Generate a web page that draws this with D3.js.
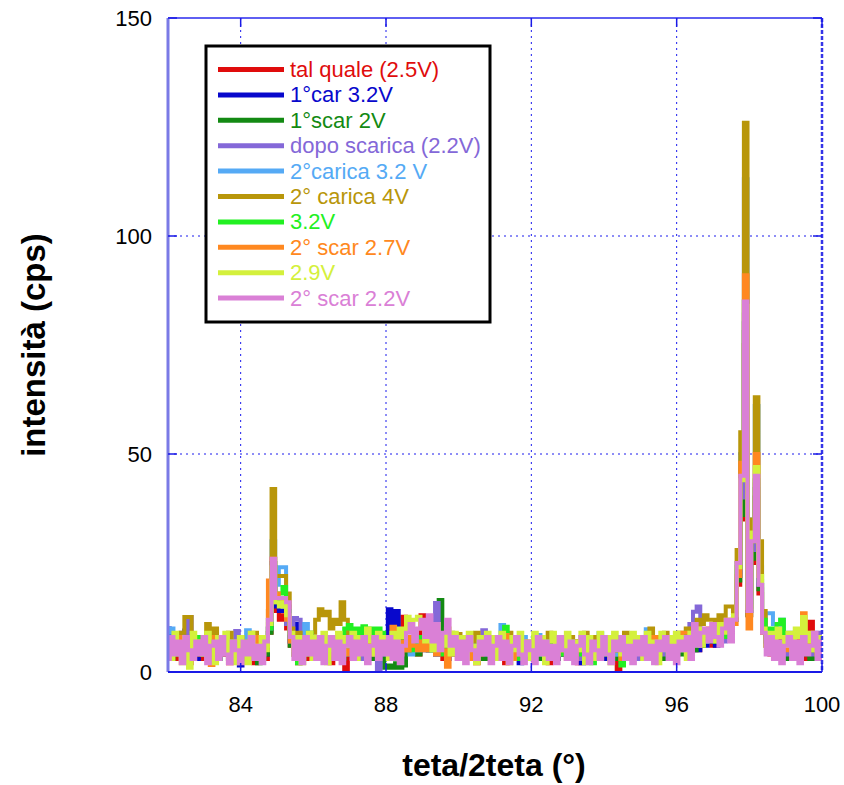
<!DOCTYPE html>
<html>
<head>
<meta charset="utf-8">
<script src="https://cdn.jsdelivr.net/npm/d3@7"></script>
<style>
  body { margin: 0; background: #fff; }
  text { font-family: "Liberation Sans", Arial, sans-serif; }
</style>
</head>
<body>
<div id="chart"></div>
<script>
// 1: DATA (2theta from 82 to 100, step 0.1)
const thetaStart = 82, thetaStep = 0.1;

const talQuale = [
  4,6,3,5,7,4,2,5,6,3, 5,4,6,3,5,7,4,2,5,4, 6,3,5,4,2,6,5,3,9,22,
  14,12,13,10,6,4,2,5,3,6, 4,5,3,6,4,2,5,3,4,0.5, 5,3,6,4,5,3,7,4,3,5,
  4,6,3,5,6,12.7,8,5,6,4, 13,7,5,8,4,6,3,5,4,6, 3,5,4,6,3,2,5,4,3,6,
  4,3,5,2,4,6,3,5,4,3, 5,4,3,6,4,2,5,3,4,5, 3,5,4,2,6,3,4,5,3,4,
  5,3,4,6,0.5,4,5,3,6,4, 3,5,4,6,3,5,4,7,3,5, 4,8.5,5,6,4,7,5,6,8,7,
  6,8,7,9,10,9,13,20,35,75, 13,25,40,18,9,6,4,5,3,6, 4,5,3,6,4,5,3,11.5,5,4, 5
];
const car1 = [
  10,6,4,7,5,9.5,4,6,3,5, 6,4,7,5,3,6,4,5,7,3, 1.5,5,4,6,3,5,7,4,10,24,
  15,14,14,11,7,5,11,6,4,7, 5,3,6,4,7,5,3,6,4,5, 4,6,3,5,7,4,5,3,6,4,
  6,14.4,5,14,7,4,6,5,8,6, 7,5,8,6,4,7,5,3,6,4, 5,3,6,4,5,7,3,4,6,5,
  3,6,4,5,3,7,4,2,5,6, 4,5,3,6,4,5,7,3,4,5, 6,3,5,4,2,6,5,3,4,6,
  3,5,6,4,5,3,6,4,5,3, 5,4,6,3,5,7,4,5,6,4, 6,5,7,4,6,8,5,7,6,8,
  7,6,9,8,10,11,12,22,38,80, 14,27,42,20,10,7,5,6,4,7, 5,6,4,7,3,5,6,4,5,6, 4
];
const scar1 = [
  5,3,6,4,7,5,3,6,4,5, 4,6,3,5,4,7,5,3,6,4, 5,3,6,4,7,2,5,4,9,24,
  16,16,15,11,6,4,6,3,5,4, 6,4,5,3,7,5,4,6,3,5, 4,6,3,5,4,6,5,3,7,4,
  1,1.5,1,2,1,1.5,6,5,7,4, 6,8,5,7,9,16.5,6,4,7,5, 4,6,3,5,7,4,6,3,5,4,
  6,4,5,3,6,4,7,5,3,6, 4,5,3,6,4,7,5,3,4,6, 5,3,6,4,5,3,4,6,5,3,
  6,4,5,3,6,4,3,5,7,4, 4,6,3,5,4,6,5,3,6,5, 5,7,4,6,8,5,7,6,9,7,
  8,7,9,8,10,11,12,21,36,78, 13,26,40,19,10,6,5,4,6,5, 3,6,4,5,7,4,5,3,6,4, 5
];
const dopoScarica = [
  8,5,7,4,9,6,12.6,7,5,6, 4,7,5,3,6,4,7,5,3,9.4, 5,4,6,3,7,5,4,6,10,25,
  16,16,15,11,7,12.4,12,6,4,7, 5,7,4,6,3,5,7,4,6,4, 6,4,7,5,3,6,4,5,0,5,
  4,6,5,7,4,6,5,7,8,6, 7,9,6,8,15.8,7,5,6,4,7, 5,4,6,3,5,7,4,9.6,5,6,
  5,3,6,4,7,5,3,6,4,5, 3,6,4,7,5,3,6,4,5,6, 4,5,7,3,6,4,5,3,6,4,
  5,6,3,7,4,5,8.7,4,6,3, 6,4,5,7,3,6,4,5,7,4, 5,7,6,8,11,13.8,15,8,7,9,
  8,10,9,7,11,10,12,23,40,82, 14,28,43,20,10,7,6,5,7,4, 6,4,7,5,3,6,5,7,4,9, 6
];
const carica2 = [
  9,10,7,5,8,6,4,7,5,8, 6,4,9,7,5,8,6,4,7,5, 6,8,9.6,5,7,4,6,8,12,30,
  20,24,24,15,8,6,7,5,11,6, 8,5,7,4,6,8,5,7,4,6, 5,7,4,6,8,5,7,4,6,5,
  7,4,6,8,5,6,7,4,8,5, 6,8,5,7,4,6,8,5,7,4, 6,5,7,4,6,8,5,7,4,6,
  5,7,10.8,6,4,7,5,6,8,4, 6,5,8.5,4,7,5,6,4,7,5, 4,7,5,6,8,4,6,5,7,8.9,
  6,5,7,4,6,5,8,4,6,7, 5,7,9.8,6,4,7,5,6,8,5, 7,5,8,6,7,9,6,8,7,9,
  8,9,7,10,11,10,13,25,50,113, 16,35,61,24,11,13.5,13.5,11,8,12, 7,9,6,8,5,7,6,8,5,7, 6
];
const carica2_4V = [
  6,8,5,7,9,12.6,12.6,7,5,8, 6,11,7,10,5,8,6,9,7,5, 8,6,7,5,9,6,8,7,14,42,
  22,22,22,18,10,7,9,6,8,7, 9,12,14.4,13,13.8,10,12,11,16,12, 8,6,9,7,5,8,6,7,9,6,
  7,5,8,6,9,7,5,8,6,7, 8,6,9,7,5,8,6,7,9,6, 8.7,6,8,5,7,9,6,8,5,7,
  6,8,5,7,9,6,8,5,7,6, 7,5,8,6,7,9,5,7,6,8, 6,8,5,7,6,9,7,5,8,6,
  7,6,8,5,7,6,9,7,6,8, 6,8,7,10,6,8,7,9,6,8, 7,9,8,10,9,8,12,11,13,12,
  12,10,13,11,15,15,12,28,55,126, 18,35,63,30,14,9,7,8,6,9, 7,8,6,9,7,8,6,9,7,8, 7
];
const v32 = [
  7,5,8,4,6,3,7,5,8,6, 4,7,5,6,3,8,5,7,4,6, 5,7,4,6,8,5,3,6,10,25,
  18,18,19.5,14,8,5,2,6,4,9, 5,8,6,4,7,5,8,6,3,10, 10.8,9,10,8,10.5,9,10,8,10,9,
  6,8,5,7,9,6,8,5,7,6, 8,6,9,5,7,6,4,8,6,5, 7,5,8,4,6,3,7,5,8,6,
  5,7,4,10.4,8,5,6,3,7,5, 6,8,4,6,3,7,5,8,4,6, 5,3,7,6,4,8,5,2,6,5,
  7,4,6,5,8,1.5,6,4,7,5, 6,5,8,4,7,5,6,8,4,6, 5,7,6,9,5,8,6,7,9,8,
  9,7,10,8,11,10,12,24,45,85, 15,30,44,21,12,8,10,9,11,12, 6,8,5,7,4,6,8,5,7,4, 6
];
const scar2_27 = [
  5,7,4,6,8,5,3,6,4,7, 6,4,1.6,8,5,8,4,6,3,5, 7,4,6,3,5,8,4,6,21,26,
  18,17,16,12,7,5,3,6,4,5, 6,8,5,7,4,6,3,5,7,4, 5,7,4,6,8,5,7,4,6,5,
  7,5,10.4,6,4,7,5,8,6,5, 7,5,8,6,4,7,5,1.2,6,4, 6,4,7,5,3,6,4,7,5,6,
  4,6,7,8.5,5,3,6,4,7,5, 6,4,5,7,3,6,5,4,7,5, 4,6,3,7,5,4,6,5,3,6,
  5,7,4,6,5,3,7,4,6,5, 7,4,6,5,8,4,6,7,5,6, 5,7,9,9,6,8,10,7,8,10,
  9,11,8,10,11,12,11,22,48,91, 10,30,50,22,9,6,5,7,4,6, 5,7,6,8,6,13.5,7,5,8,4, 6
];
const v29 = [
  8,3,9,6,2,8,1,9,5,7, 4,9,6,2,8,5,9,3,7,2, 8,5,2,9,6,3,8,5,11,24,
  16,15,16,13,9,4,8,2,7,9, 3,8,6,9,2,7,5,9,4,8, 6,9,3,8,5,10,7,4,9,6,
  8,3,9,6,10,8,12.7,11,12,12.7, 10,7,9,5,11,8,6,10,4,9, 5,8,3,9,6,2,8,5,9,4,
  8,3,9,6,2,8,5,9,4,7, 3,9,6,8,2,7,9,4,8,5, 9,3,7,5,9,2,8,6,3,9,
  5,8,2,9,6,4,8,3,9,6, 8,3,9,5,7,2,9,6,8,4, 9,5,8,3,9,7,10,6,9,8,
  10,7,11,9,12,10,13,24,44,84, 14.7,32,47,22,10,6,9,7,10,8, 6,9,4,10,8,12.6,7,9,5,8, 6
];
const scar2_22 = [
  3,8,4,7,2,8,5,3,7,4, 8,2,6,7,3,8,4,2,7,5, 2,7,4,8,3,6,2,7,12,26,
  17,17,17,16,8,3,7,2,8,4, 7,3,8,2,6,8,3,7,2,6, 8,3,7,4,8,2,6,8,3,7,
  4,8,3,7,2,6,9,11,7,10, 12,8,13,7,11,5,9,12,6,8, 3,7,2,8,5,3,7,4,8,2,
  6,8,3,7,2,6,8,4,2,7, 5,2,8,4,7,3,6,2,8,5, 3,7,2,6,8,4,2,7,5,3,
  8,4,2,7,5,8,3,6,2,7, 4,8,3,6,2,7,5,8,3,6, 2,7,5,8,3,11,6,9,10,7,
  11,8,6,10,12,7,12,25,45,85, 14,30,45,20,9,4,8,3,7,2, 6,8,3,7,2,8,4,6,9,3, 7
];

const seriesNames = ["tal quale (2.5V)", "1°car 3.2V", "1°scar 2V", "dopo scarica (2.2V)",
  "2°carica 3.2 V", "2° carica 4V", "3.2V", "2° scar 2.7V", "2.9V", "2° scar 2.2V"];
const seriesValues = [talQuale, car1, scar1, dopoScarica, carica2, carica2_4V, v32, scar2_27, v29, scar2_22];
const seriesColors = ["#e00c0c", "#0808cc", "#138a13", "#8468d8", "#55aaf5",
  "#b8960a", "#22f022", "#ff8820", "#d4f03c", "#da80d6"];

const xTicks = [84, 88, 92, 96, 100];
const yTicks = [0, 50, 100, 150];

// 2: SVG + SCALES
const margin = { top: 18, right: 22, bottom: 113, left: 168 };
const width = 844 - margin.left - margin.right;
const height = 785 - margin.top - margin.bottom;

const svg = d3.select("#chart")
  .append("svg")
  .attr("width", 844)
  .attr("height", 785)
  .append("g")
  .attr("transform", `translate(${margin.left},${margin.top})`);

const xScale = d3.scaleLinear().domain([82, 100]).range([0, width]);
const yScale = d3.scaleLinear().domain([0, 150]).range([height, 0]);

// 3: GRID
svg.append("g").selectAll("line")
  .data(xTicks.filter(d => d < 100))
  .join("line")
  .attr("x1", d => xScale(d)).attr("x2", d => xScale(d))
  .attr("y1", 0).attr("y2", height)
  .attr("stroke", "#1a1aee").attr("stroke-width", 1)
  .attr("stroke-dasharray", "2,4");

svg.append("g").selectAll("line")
  .data(yTicks.filter(d => d > 0 && d < 150))
  .join("line")
  .attr("x1", 0).attr("x2", width)
  .attr("y1", d => yScale(d)).attr("y2", d => yScale(d))
  .attr("stroke", "#1a1aee").attr("stroke-width", 1)
  .attr("stroke-dasharray", "2,4");

// 4: DATA LINES
svg.append("clipPath").attr("id", "clip")
  .append("rect").attr("width", width).attr("height", height);

const line = d3.line()
  .x((d, i) => xScale(thetaStart + i * thetaStep))
  .y(d => yScale(d))
  .curve(d3.curveStep);

const plot = svg.append("g").attr("clip-path", "url(#clip)");
seriesValues.forEach((vals, k) => {
  plot.append("path")
    .datum(vals)
    .attr("fill", "none")
    .attr("stroke", seriesColors[k])
    .attr("stroke-width", 4)
    .attr("d", line);
});

// 5: FRAME + TICKS
svg.append("line")
  .attr("x1", 0).attr("x2", width).attr("y1", 0).attr("y2", 0)
  .attr("stroke", "#2a2aee").attr("stroke-width", 1.5);
svg.append("line")
  .attr("x1", width).attr("x2", width).attr("y1", 0).attr("y2", height)
  .attr("stroke", "#3535e8").attr("stroke-width", 2.5)
  .attr("stroke-dasharray", "4,2");
svg.append("line")
  .attr("x1", 0).attr("x2", 0).attr("y1", 0).attr("y2", height)
  .attr("stroke", "#7a7ae6").attr("stroke-width", 3);
svg.append("line")
  .attr("x1", 0).attr("x2", width).attr("y1", height).attr("y2", height)
  .attr("stroke", "#1a1ae6").attr("stroke-width", 2);

const tickLen = 9;
xTicks.forEach(t => {
  svg.append("line")
    .attr("x1", xScale(t)).attr("x2", xScale(t))
    .attr("y1", height).attr("y2", height - tickLen)
    .attr("stroke", "#1a1ae6").attr("stroke-width", 1.5);
  svg.append("line")
    .attr("x1", xScale(t)).attr("x2", xScale(t))
    .attr("y1", 0).attr("y2", tickLen)
    .attr("stroke", "#1a1ae6").attr("stroke-width", 1.5);
});
yTicks.forEach(t => {
  svg.append("line")
    .attr("x1", 0).attr("x2", tickLen)
    .attr("y1", yScale(t)).attr("y2", yScale(t))
    .attr("stroke", "#1a1ae6").attr("stroke-width", 1.5);
  svg.append("line")
    .attr("x1", width).attr("x2", width - tickLen)
    .attr("y1", yScale(t)).attr("y2", yScale(t))
    .attr("stroke", "#1a1ae6").attr("stroke-width", 1.5);
});

// tick labels
svg.append("g").selectAll("text")
  .data(xTicks)
  .join("text")
  .attr("x", d => xScale(d))
  .attr("y", height + 40)
  .attr("text-anchor", "middle")
  .style("font-size", "22px")
  .text(d => d);

svg.append("g").selectAll("text")
  .data(yTicks)
  .join("text")
  .attr("x", -16)
  .attr("y", d => yScale(d) + 8)
  .attr("text-anchor", "end")
  .style("font-size", "22px")
  .text(d => d);

// 6: AXIS TITLES
svg.append("text")
  .attr("x", 326)
  .attr("y", height + 104)
  .attr("text-anchor", "middle")
  .style("font-size", "32px")
  .style("font-weight", "bold")
  .text("teta/2teta (°)");

svg.append("text")
  .attr("transform", "rotate(-90)")
  .attr("x", -(345 - margin.top))
  .attr("y", -123)
  .attr("text-anchor", "middle")
  .style("font-size", "33px")
  .style("font-weight", "bold")
  .text("intensità (cps)");

// 7: LEGEND
const legend = svg.append("g")
  .attr("transform", `translate(${206 - margin.left},${46 - margin.top})`);

legend.append("rect")
  .attr("width", 284).attr("height", 276)
  .attr("fill", "#fff").attr("stroke", "#000").attr("stroke-width", 3);

seriesNames.forEach((name, i) => {
  const y = 23.5 + i * 25.4;
  legend.append("line")
    .attr("x1", 12).attr("x2", 78)
    .attr("y1", y).attr("y2", y)
    .attr("stroke", seriesColors[i]).attr("stroke-width", 5);
  legend.append("text")
    .attr("x", 84)
    .attr("y", y + 7.5)
    .attr("fill", seriesColors[i])
    .style("font-size", "22px")
    .text(name);
});
</script>
</body>
</html>
